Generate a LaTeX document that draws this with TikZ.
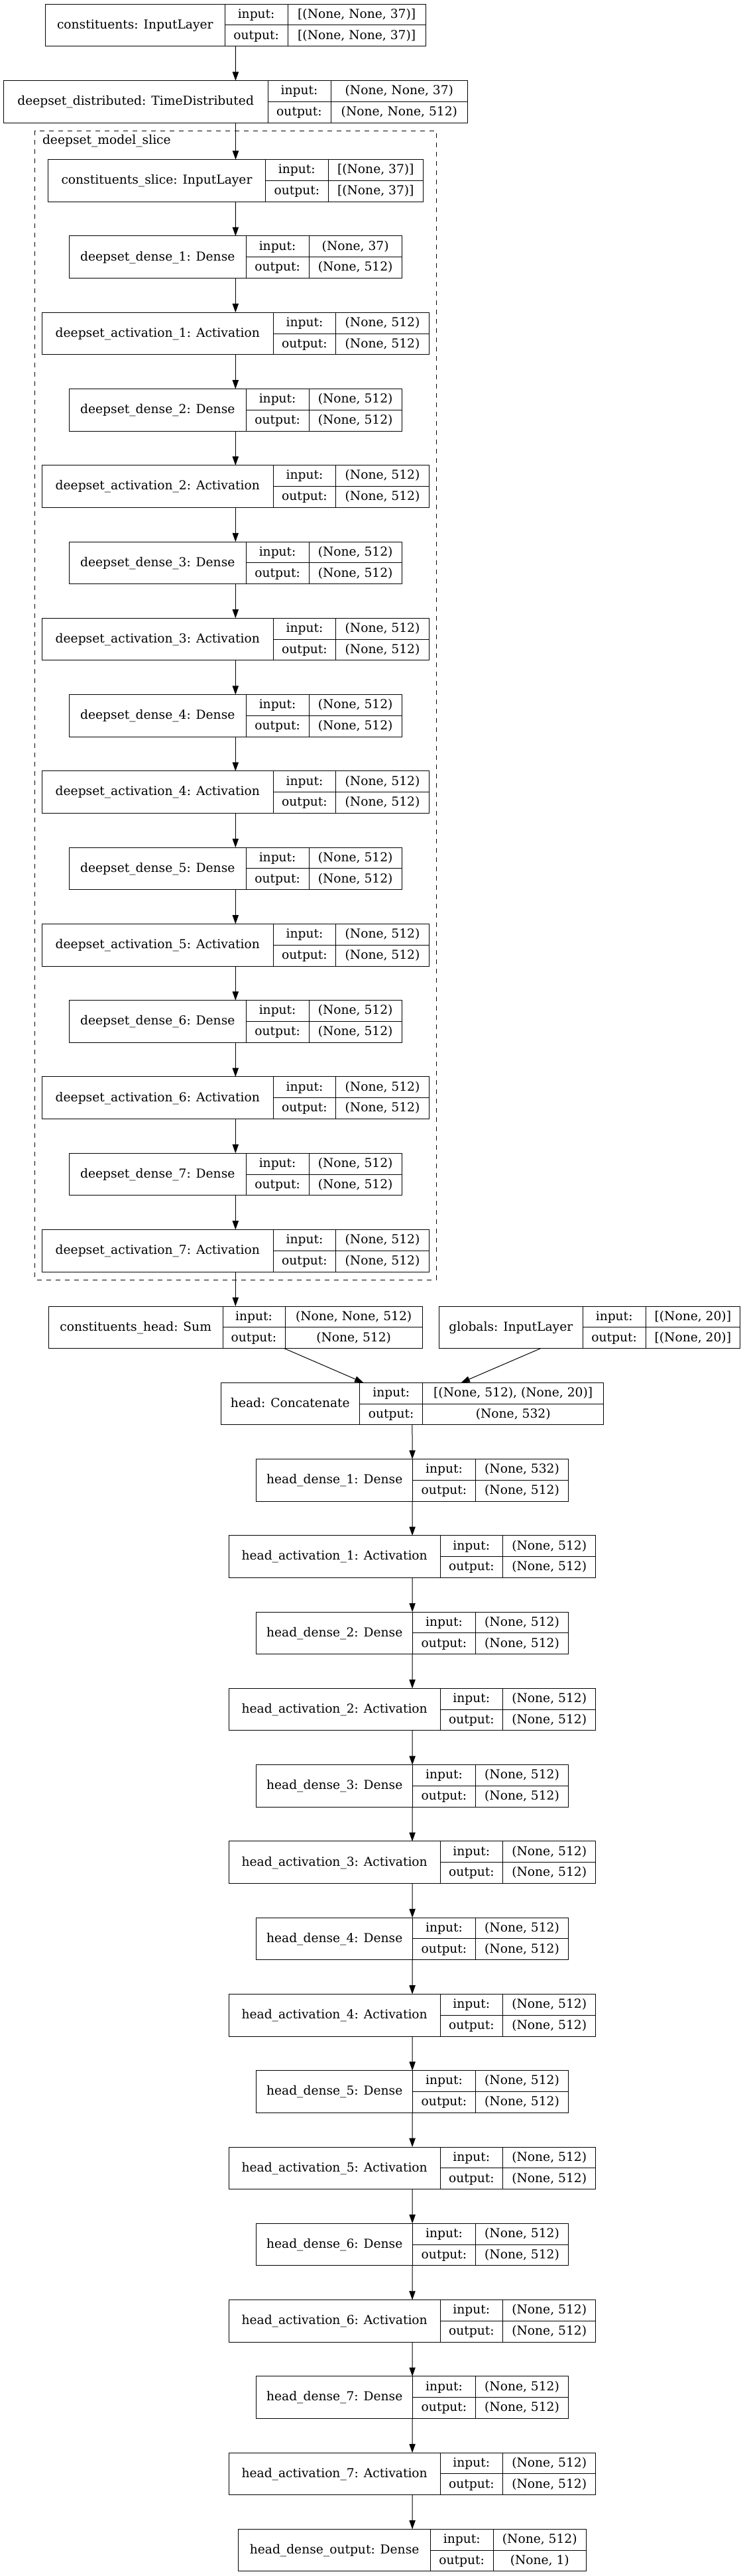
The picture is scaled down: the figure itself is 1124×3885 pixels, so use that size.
\documentclass[tikz,border=0pt]{standalone}
\usepackage{fontspec}
\setmainfont{DejaVu Serif}
\usetikzlibrary{arrows.meta}
\tikzset{
  layerbox/.style={draw=black, line width=1pt, rectangle, inner sep=0pt, outer sep=0pt, minimum height=63.6pt},
  cell/.style={draw=black, line width=1pt},
  txt/.style={anchor=base, inner sep=0pt, outer sep=0pt, font=\fontsize{18.67}{22}\selectfont},
  edge/.style={draw=black, line width=1pt, -{Triangle[length=13.3pt,width=9.3pt]}},
  cluster/.style={draw=black, line width=1pt, dash pattern=on 7pt off 7pt},
}
% #1 name, #2 top, #3 left, #4 div1, #5 div2, #6 right, #7 label, #8 input, #9 output
\newcommand\layer[9]{%
  \pgfmathsetmacro\lw{#6-#3}%
  \pgfmathsetmacro\lcx{(#3+#6)/2}%
  \pgfmathsetmacro\lcy{#2+31.8}%
  \node[layerbox, minimum width=\lw pt] (#1) at (\lcx,\lcy) {};
  \draw[cell] (#4,#2) -- (#4,{#2+63.6});
  \draw[cell] (#5,#2) -- (#5,{#2+63.6});
  \draw[cell] (#4,{#2+31.8}) -- (#6,{#2+31.8});
  \node[txt] at ({(#3+#4)/2},{#2+31.8+5.3}) {#7};
  \node[txt] at ({(#4+#5)/2},{#2+15.9+5.3}) {input:};
  \node[txt] at ({(#4+#5)/2},{#2+47.7+5.3}) {output:};
  \node[txt] at ({(#5+#6)/2},{#2+15.9+5.3}) {#8};
  \node[txt] at ({(#5+#6)/2},{#2+47.7+5.3}) {#9};
}
\begin{document}
\begin{tikzpicture}[x=1pt,y=-1pt]
\useasboundingbox (0,0) rectangle (1124,3885);
\fill[white] (0,0) rectangle (1124,3885);

% cluster
\draw[cluster] (52.7,197) rectangle (658,1930);
\node[txt, anchor=base west] (clabel) at (64,217.3) {deepset\_model\_slice};

\layer{b1}{6}{68.3}{339.3}{434}{642.3}{constituents: InputLayer}{[(None, None, 37)]}{[(None, None, 37)]}
\layer{b2}{121.7}{5.3}{404}{499}{705.7}{deepset\_distributed: TimeDistributed}{(None, None, 37)}{(None, None, 512)}
\layer{cs}{240.7}{72.7}{400.3}{495.3}{638.3}{constituents\_slice: InputLayer}{[(None, 37)]}{[(None, 37)]}

\foreach \n in {1,...,7}{
  \pgfmathsetmacro\tA{240.7+115.27*(2*\n-1)}
  \pgfmathsetmacro\tB{240.7+115.27*(2*\n)}
  \layer{dd\n}{\tA}{104.3}{371.3}{466}{606.3}{deepset\_dense\_\n: Dense}{\ifnum\n=1 (None, 37)\else (None, 512)\fi}{(None, 512)}
  \layer{da\n}{\tB}{63.3}{412.3}{506.7}{647.3}{deepset\_activation\_\n: Activation}{(None, 512)}{(None, 512)}
}

\layer{ch}{1970}{73.3}{336}{430}{637.3}{constituents\_head: Sum}{(None, None, 512)}{(None, 512)}
\layer{gl}{1970}{662.3}{879.3}{974}{1116.7}{globals: InputLayer}{[(None, 20)]}{[(None, 20)]}
\layer{hc}{2085.27}{333}{542.7}{637.7}{910.7}{head: Concatenate}{[(None, 512), (None, 20)]}{(None, 532)}

\foreach \n in {1,...,7}{
  \pgfmathsetmacro\tA{1970+115.27*(2*\n)}
  \pgfmathsetmacro\tB{1970+115.27*(2*\n+1)}
  \layer{hd\n}{\tA}{386.7}{622.7}{717.3}{857.7}{head\_dense\_\n: Dense}{\ifnum\n=1 (None, 532)\else (None, 512)\fi}{(None, 512)}
  \layer{ha\n}{\tB}{345.3}{664}{758.7}{898.7}{head\_activation\_\n: Activation}{(None, 512)}{(None, 512)}
}
\layer{hdo}{3814.32}{359.8}{649.4}{744}{884.5}{head\_dense\_output: Dense}{(None, 512)}{(None, 1)}

% edges
\draw[edge] (b1) -- (b2);
\draw[edge] (b2) -- (cs);
\draw[edge] (cs) -- (dd1);
\foreach \n in {1,...,7}{ \draw[edge] (dd\n) -- (da\n); }
\foreach \p/\n in {1/2,2/3,3/4,4/5,5/6,6/7}{ \draw[edge] (da\p) -- (dd\n); }
\draw[edge] (da7) -- (ch);
\draw[edge] (ch) -- (hc);
\draw[edge] (gl) -- (hc);
\draw[edge] (hc) -- (hd1);
\foreach \n in {1,...,7}{ \draw[edge] (hd\n) -- (ha\n); }
\foreach \p/\n in {1/2,2/3,3/4,4/5,5/6,6/7}{ \draw[edge] (ha\p) -- (hd\n); }
\draw[edge] (ha7) -- (hdo);
\end{tikzpicture}
\end{document}
